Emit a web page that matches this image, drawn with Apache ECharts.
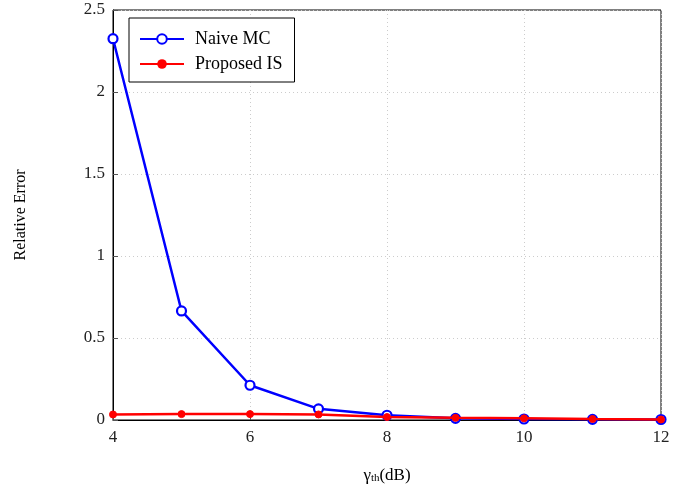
<!DOCTYPE html>
<html><head><meta charset="utf-8">
<script src="https://cdn.jsdelivr.net/npm/echarts@6/dist/echarts.min.js"></script>
<style>html,body{margin:0;padding:0;background:#fff}#c{width:697px;height:489px}</style>
</head><body><div id="c"></div>
<script>
const xCats = [4,5,6,7,8,9,10,11,12];
const naiveMC = [2.325, 0.665, 0.212, 0.068, 0.029, 0.010, 0.006, 0.004, 0.003];
const proposedIS = [0.034, 0.036, 0.036, 0.034, 0.018, 0.013, 0.010, 0.006, 0.003];
const yTicks = [0, 0.5, 1, 1.5, 2, 2.5];
const font = 'Liberation Serif';
const chart = echarts.init(document.getElementById('c'));
const pairs = a => xCats.map((x,i)=>[x,a[i]]);
chart.setOption({
  animation:false,
  grid:{left:113,right:36,top:10,bottom:67,show:true,borderColor:'#000',borderWidth:1},
  legend:{show:true,left:129,top:18,orient:'vertical',itemGap:7,itemWidth:44,itemHeight:12,
    padding:[12,12,9,10],borderColor:'#000',borderWidth:1,borderRadius:0,backgroundColor:'#fff',
    textStyle:{fontFamily:font,fontSize:18,color:'#000',padding:[0,0,0,6]},
    data:['Naive MC','Proposed IS']},
  xAxis:{type:'value',min:4,max:12,interval:2,
    axisLine:{show:true,lineStyle:{color:'#000'}},
    axisTick:{show:true,inside:true,length:5,lineStyle:{color:'#555'}},
    axisLabel:{fontFamily:font,fontSize:17,color:'#222',margin:9},
    splitLine:{show:true,lineStyle:{color:'#ccc',type:[1,3]}},
    name:'{g|γ}{s|th}{g|(dB)}',nameLocation:'middle',nameGap:47,
    nameTextStyle:{rich:{g:{fontFamily:font,fontSize:17,color:'#000'},s:{fontFamily:font,fontSize:11,color:'#000',verticalAlign:'bottom',padding:[6,0,0,0]}}}},
  yAxis:{type:'value',min:0,max:2.5,interval:0.5,
    axisLine:{show:true,lineStyle:{color:'#000'}},
    axisTick:{show:true,inside:true,length:5,lineStyle:{color:'#555'}},
    axisLabel:{fontFamily:font,fontSize:17,color:'#222',margin:8,formatter:v=>String(v)},
    splitLine:{show:true,lineStyle:{color:'#ccc',type:[1,3]}},
    name:'Relative Error',nameLocation:'middle',nameGap:84,nameRotate:90,
    nameTextStyle:{fontFamily:font,fontSize:16,color:'#000'}},
  series:[
    {name:'Naive MC',type:'line',data:pairs(naiveMC),symbol:'circle',symbolSize:9,
      lineStyle:{color:'#0000ff',width:2.5},itemStyle:{color:'#fff',borderColor:'#0000ff',borderWidth:2.2},z:2},
    {name:'Proposed IS',type:'line',data:pairs(proposedIS),symbol:'circle',symbolSize:7,
      lineStyle:{color:'#ff0000',width:2.5},itemStyle:{color:'#ff0000',borderColor:'#ff0000'},z:3}
  ]
});
</script></body></html>
